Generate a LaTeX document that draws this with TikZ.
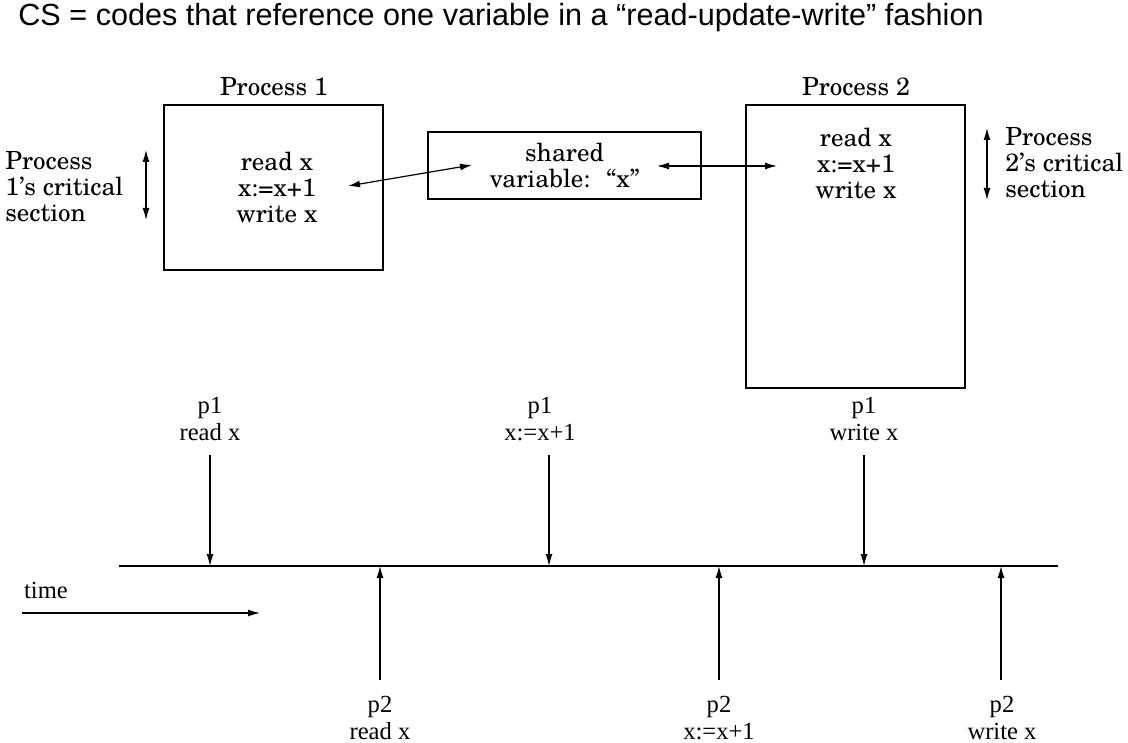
\documentclass[tikz,border=0pt]{standalone}
\usepackage{fontspec}
\setmainfont{Liberation Serif}
\newfontfamily\titlefont{Liberation Sans}
\newfontfamily\schfont[Ligatures=TeX]{texgyreschola-regular.otf}
\usetikzlibrary{arrows.meta}
\tikzset{tight/.style={inner sep=1pt}}
\tikzset{box/.style={draw, rectangle, line width=0.7pt, inner sep=0pt}}
\tikzset{arr/.style={-{Latex[length=6pt,width=3.5pt]}, line width=0.6pt}}
\tikzset{darr/.style={{Latex[length=6pt,width=3.5pt]}-{Latex[length=6pt,width=3.5pt]}, line width=0.6pt}}
\tikzset{code/.style={font=\schfont\fontsize{12.5}{13}\selectfont, align=center}}
\tikzset{evt/.style={font=\fontsize{12.3}{13.5}\selectfont, align=center}}

\begin{document}
\begin{tikzpicture}[x=0.5pt, y=-0.5pt, style=tight]
          \useasboundingbox (0,0) rectangle (1128,743);

          \node at (16, 18) [anchor=west, font=\titlefont\fontsize{15.3}{18}\selectfont] (title)
            {CS = codes that reference one variable in a “read-update-write” fashion};

          % the two processes and the shared variable
          \node at (274, 87) [code] (p1name) {Process 1};
          \node at (856, 87) [code] (p2name) {Process 2};

          \node at (273.5, 187.5) [box, minimum width=109.5pt, minimum height=82.5pt] (p1box) {};
          \node at (277, 187) [code] (p1code) {read x\\x:=x+1\\write x};

          \node at (855.5, 246.5) [box, minimum width=109.5pt, minimum height=141.5pt] (p2box) {};
          \node at (856, 163) [code] (p2code) {read x\\x:=x+1\\write x};

          \node at (564.5, 165.5) [box, code, minimum width=136.5pt, minimum height=33.5pt] (shared)
            {shared\\variable:~ ``x''};

          \node at (3, 187) [code, anchor=west, align=left] (cs1) {Process\\1's critical\\section};
          \node at (1003, 163) [code, anchor=west, align=left] (cs2) {Process\\2's critical\\section};

          \coordinate (cs1top) at (146, 150);
          \coordinate (cs1bot) at (146, 220);
          \coordinate (cs2top) at (987, 128);
          \coordinate (cs2bot) at (987, 200);
          \draw[darr] (cs1top) -- (cs1bot);
          \draw[darr] (cs2top) -- (cs2bot);

          \coordinate (v1) at (348, 186);
          \coordinate (v1s) at (472, 165);
          \coordinate (v2s) at (657, 166);
          \coordinate (v2) at (777, 166);
          \draw[darr] (v1) -- (v1s);
          \draw[darr] (v2s) -- (v2);

          % time line
          \coordinate (tleft) at (119, 566);
          \coordinate (tright) at (1058, 566);
          \draw[line width=0.7pt] (tleft) -- (tright);

          \node at (46, 590) [evt] (time) {time};
          \coordinate (tstart) at (22, 613);
          \coordinate (tend) at (260, 613);
          \draw[arr] (tstart) -- (tend);

          \foreach \lx / \ax / \op / \num in {210/210/read x/1, 540/549/x:=x+1/2, 864/864/write x/3} {
            \node at (\lx, 419) [evt] (a\num) {p1\\\op};
            \coordinate (as\num) at (\ax, 455);
            \coordinate (ae\num) at (\ax, 566);
            \draw[arr] (as\num) -- (ae\num);
          }

          \foreach \lx / \ax / \op / \num in {380/380/read x/1, 719/719/x:=x+1/2, 1002/1001/write x/3} {
            \node at (\lx, 718) [evt] (b\num) {p2\\\op};
            \coordinate (bs\num) at (\ax, 680);
            \coordinate (be\num) at (\ax, 566);
            \draw[arr] (bs\num) -- (be\num);
          }
        \end{tikzpicture}
\end{document}
